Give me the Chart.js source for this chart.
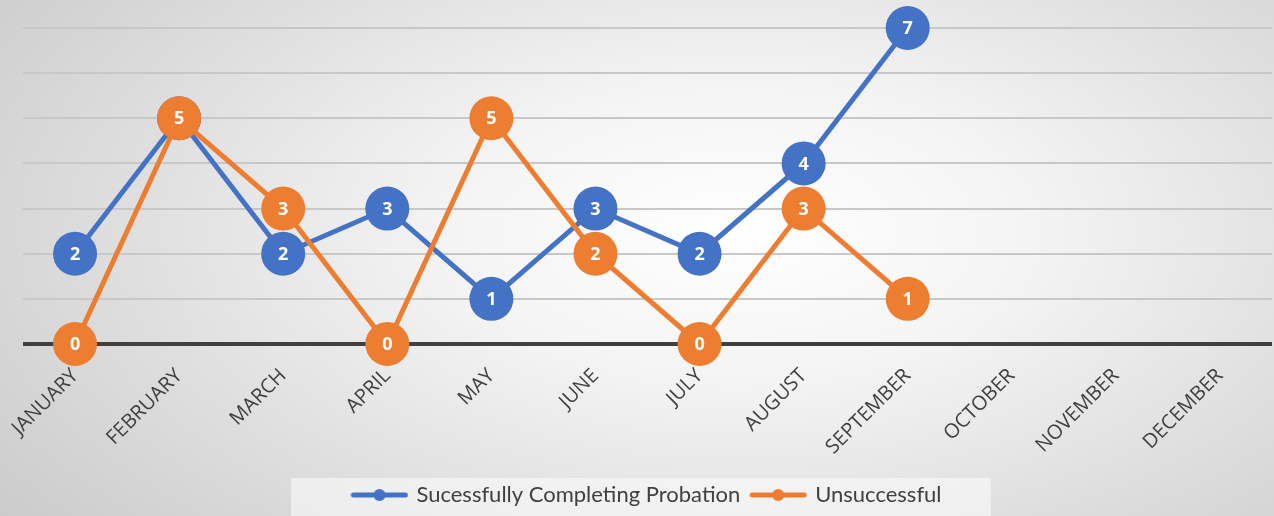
<!DOCTYPE html>
<html lang="en">
<head>
  <meta charset="UTF-8" />
  <title>Probation Outcomes by Month</title>
  <script src="https://cdn.jsdelivr.net/npm/chart.js"></script>
  <style>
    html, body {
      margin: 0;
      padding: 0;
    }
    body {
      width: 1274px;
      height: 516px;
      overflow: hidden;
      background: radial-gradient(ellipse 75% 95% at 58% 45%, #ffffff 0%, #f4f4f4 30%, #dedede 65%, #c9c9c9 100%);
    }
    .wrap {
      position: relative;
      width: 1274px;
      height: 516px;
    }
  </style>
</head>
<body>
  <div class="wrap">
    <canvas id="probationChart"></canvas>
  </div>

  <script>
    // chart data
    const months = ['JANUARY', 'FEBRUARY', 'MARCH', 'APRIL', 'MAY', 'JUNE', 'JULY',
                    'AUGUST', 'SEPTEMBER', 'OCTOBER', 'NOVEMBER', 'DECEMBER'];
    const successful = [2, 5, 2, 3, 1, 3, 2, 4, 7, null, null, null];
    const unsuccessful = [0, 5, 3, 0, 5, 2, 0, 3, 1, null, null, null];
    const seriesNames = ['Sucessfully Completing Probation', 'Unsuccessful'];

    const BLUE = '#4472C4';
    const ORANGE = '#ED7D31';

    // small line-with-dot icon for the legend
    function legendIcon(color) {
      const c = document.createElement('canvas');
      c.width = 58; c.height = 14;
      const g = c.getContext('2d');
      g.strokeStyle = color;
      g.lineWidth = 5;
      g.lineCap = 'round';
      g.beginPath();
      g.moveTo(3, 7); g.lineTo(55, 7);
      g.stroke();
      g.fillStyle = color;
      g.beginPath();
      g.arc(29, 7, 6, 0, Math.PI * 2);
      g.fill();
      return c;
    }

    // value printed inside each marker
    const pointValues = {
      id: 'pointValues',
      afterDatasetDraw(chart, args) {
        const ctx = chart.ctx;
        const ds = chart.data.datasets[args.index];
        ctx.save();
        ctx.fillStyle = '#ffffff';
        ctx.font = 'bold 18px "Open Sans"';
        ctx.textAlign = 'center';
        ctx.textBaseline = 'middle';
        args.meta.data.forEach((pt, i) => {
          if (ds.data[i] === null) return;
          ctx.fillText(ds.data[i], pt.x, pt.y + 1);
        });
        ctx.restore();
      }
    };

    // pale box behind the legend
    const legendBox = {
      id: 'legendBox',
      beforeDraw(chart) {
        const ctx = chart.ctx;
        ctx.save();
        ctx.fillStyle = 'rgba(255,255,255,0.5)';
        ctx.fillRect(291, 478, 700, 40);
        ctx.restore();
      }
    };

    new Chart(document.getElementById('probationChart'), {
      type: 'line',
      data: {
        labels: months,
        datasets: [{
          label: seriesNames[0],
          data: successful,
          borderColor: BLUE,
          backgroundColor: BLUE,
          borderWidth: 5,
          pointRadius: 22,
          pointHoverRadius: 22,
          pointBorderWidth: 0,
          tension: 0,
          order: 2
        }, {
          label: seriesNames[1],
          data: unsuccessful,
          borderColor: ORANGE,
          backgroundColor: ORANGE,
          borderWidth: 5,
          pointRadius: 22,
          pointHoverRadius: 22,
          pointBorderWidth: 0,
          tension: 0,
          order: 1
        }]
      },
      options: {
        responsive: true,
        maintainAspectRatio: false,
        animation: false,
        clip: false,
        layout: { autoPadding: false, padding: { left: 23, right: 2, top: 28, bottom: 0 } },
        scales: {
          x: {
            offset: true,
            grid: { display: false },
            border: { display: false },
            afterFit: s => { s.height = 128; },
            ticks: {
              color: '#404040',
              font: { family: 'Open Sans', size: 20 },
              maxRotation: 45,
              minRotation: 45,
              autoSkip: false,
              padding: 12
            }
          },
          y: {
            min: 0,
            max: 7,
            ticks: { stepSize: 1, display: false },
            border: { display: false },
            grid: {
              color: ctx => ctx.tick.value === 0 ? '#404040' : '#c8c8c8',
              lineWidth: ctx => ctx.tick.value === 0 ? 4 : 2,
              drawTicks: false
            }
          }
        },
        plugins: {
          tooltip: { enabled: false },
          legend: {
            position: 'bottom',
            labels: {
              color: '#404040',
              font: { family: 'Lato', size: 22 },
              usePointStyle: true,
              pointStyleWidth: 52,
              padding: 12,
              sort: (a, b) => a.datasetIndex - b.datasetIndex,
              generateLabels: chart => chart.data.datasets.map((ds, i) => ({
                text: ds.label,
                pointStyle: legendIcon(ds.borderColor),
                fillStyle: ds.borderColor,
                strokeStyle: ds.borderColor,
                lineWidth: 0,
                fontColor: '#404040',
                datasetIndex: i
              }))
            }
          }
        }
      },
      plugins: [pointValues, legendBox]
    });
  </script>
</body>
</html>
